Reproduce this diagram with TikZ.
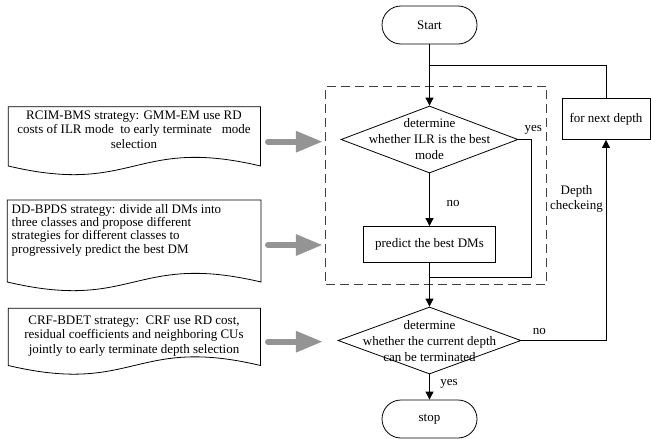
\documentclass[tikz,border=0pt]{standalone}
\usepackage{fontspec}
\setmainfont{Liberation Serif}
\usetikzlibrary{shapes.geometric,arrows.meta}

\tikzset{
  term/.style={draw, rounded corners=19pt, minimum width=95pt, minimum height=38pt},
  procbox/.style={draw, minimum width=132pt, minimum height=36pt},
  decision/.style={draw, diamond, inner sep=0pt, minimum width=#1, minimum height=67pt},
  dtext/.style={align=center, font=\fontsize{13}{16}\selectfont},
  doctext/.style={font=\fontsize{13}{14.5}\selectfont},
  flow/.style={-{Triangle[length=8pt,width=8pt]}},
  bigarrow/.style={draw=black!42, line width=6pt, line cap=round, shorten >=2.5pt,
    -{Triangle[length=27pt,width=20pt]}},
}

\begin{document}
\begin{tikzpicture}[x=1pt, y=-1pt, line width=0.8pt, font=\fontsize{13}{15}\selectfont]
\useasboundingbox (0,0) rectangle (651,439);

% main flow
\node[term] (start) at (429.5,25) {Start};
\node[decision=177pt] (ilr) at (429.5,139.5) {};
\node[dtext] (ilrtext) at (429.5,139) {determine\\whether ILR is the best\\mode};
\node[procbox] (predict) at (429.5,244.5) {predict the best DMs};
\node[decision=183pt] (depthend) at (429.5,340.5) {};
\node[dtext] (depthtext) at (429.5,341) {determine\\whether the current depth\\can be terminated};
\node[term] (stop) at (429.5,419) {stop};
\node[draw, minimum width=88pt, minimum height=41pt] (next) at (606,119) {for next depth};

% mode decision stage
\node[draw=black!75, dash pattern=on 9pt off 5pt, minimum width=221pt, minimum height=198pt] (modes) at (436.2,185.2) {};

\coordinate (split) at (429.5,65.7);
\coordinate (yesturn) at (531.7,277.3);
\coordinate (merge) at (429.5,277.3);
\draw[flow] (start) -- (ilr);
\draw (next.north) |- (split);
\draw[flow] (ilr) -- (predict);
\draw (ilr.east) -| (yesturn) -- (merge);
\draw[flow] (predict) -- (depthend);
\draw[flow] (depthend.east) -| (next.south);
\draw[flow] (depthend) -- (stop);

\node (yes1) at (533.3,130) {yes};
\node (no1) at (453,203) {no};
\node (no2) at (539.3,331) {no};
\node (yes2) at (449,384) {yes};
\node[align=center] (check) at (576.5,199) {Depth\\checkeing};

% strategy notes
\foreach \xl/\yt/\xr/\yb in {8.3/106.7/260.5/166, 7.3/200/261/282, 8.3/308.3/260.5/365.5}
  \draw (\xl,\yb) -- (\xl,\yt) -- (\xr,\yt) -- (\xr,\yb)
    .. controls ({(\xl+\xr)/2},{\yb-30}) and ({(\xl+\xr)/2},{\yb+30}) .. (\xl,\yb) -- cycle;

\node[doctext, align=center] (rcim) at (134,129.7) {RCIM-BMS strategy: GMM-EM use RD\\costs of ILR mode\ \ to early terminate\ \ \ mode\\selection};
\node[doctext, align=left, font=\fontsize{13}{13.4}\selectfont, anchor=west] (ddbpds) at (8,230) {DD-BPDS strategy: divide all DMs into\\three classes and propose different\\strategies for different classes to\\progressively predict the best DM};
\node[doctext, align=center] (crfbdet) at (134,336) {CRF-BDET strategy:\ \ CRF use RD cost,\\residual coefficients and neighboring CUs\\jointly to early terminate depth selection};

\coordinate (g1) at (268,141.7);
\coordinate (g2) at (268,245);
\coordinate (g3) at (268,341.7);
\foreach \g in {g1,g2,g3}
  \draw[bigarrow] (\g) -- (\g -| modes.west);
\end{tikzpicture}
\end{document}
